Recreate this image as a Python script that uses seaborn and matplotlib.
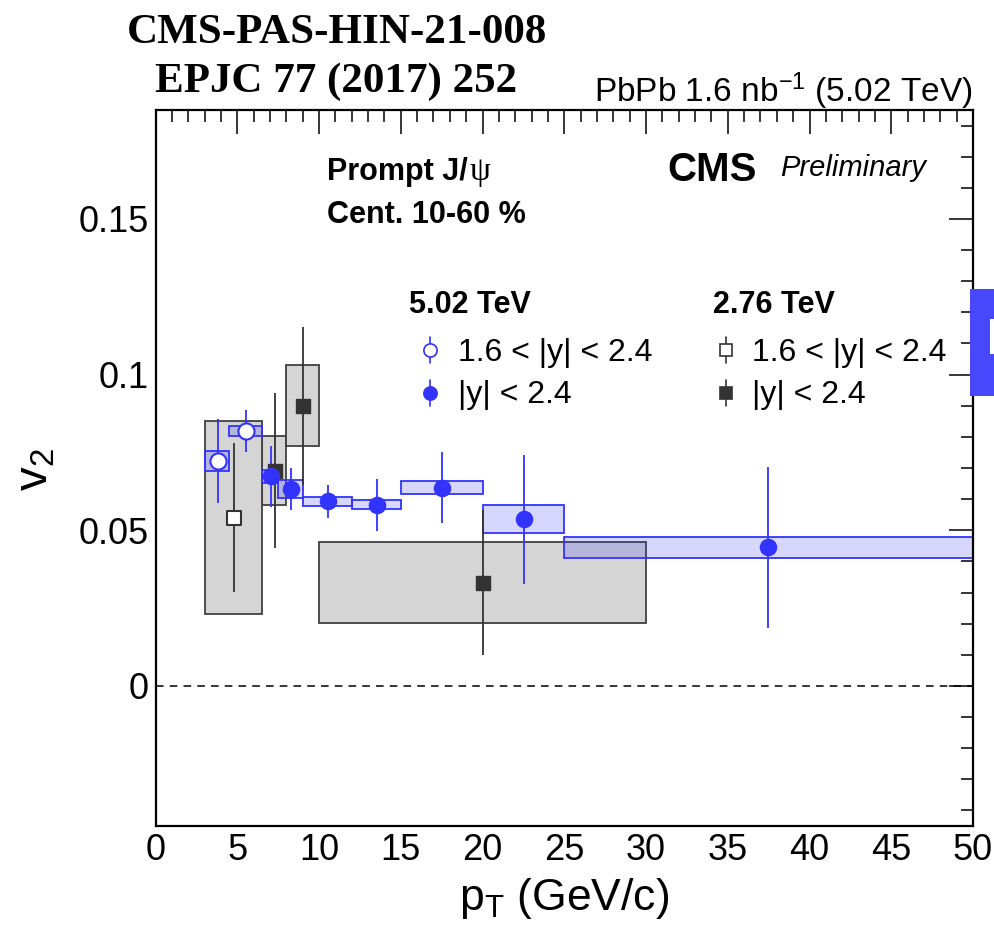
import numpy as np
import pandas as pd
import matplotlib
matplotlib.use("Agg")
import matplotlib.pyplot as plt
from matplotlib.patches import Rectangle
from matplotlib.ticker import MultipleLocator, FixedLocator
import seaborn as sns

# ---- prompt J/psi v2 vs pT, centrality 10-60 % ----
# 5.02 TeV, |y| < 2.4
pt_mid_502 = [7.04, 8.28, 10.52, 13.52, 17.53, 22.52, 37.48]
pt_lo_502 = [6.5, 7.5, 9.0, 12.0, 15.0, 20.0, 25.0]
pt_hi_502 = [7.5, 9.0, 12.0, 15.0, 20.0, 25.0, 50.0]
v2_502 = [0.0673, 0.0633, 0.0593, 0.0582, 0.0637, 0.0536, 0.0445]
stat_502 = [0.0097, 0.0067, 0.0053, 0.0083, 0.0113, 0.0207, 0.0258]
syst_502 = [0.0020, 0.0030, 0.0014, 0.0014, 0.0021, 0.0044, 0.0033]

# 5.02 TeV, 1.6 < |y| < 2.4
pt_mid_502f = [3.80, 5.53]
pt_lo_502f = [3.0, 4.5]
pt_hi_502f = [4.5, 6.5]
v2_502f = [0.0724, 0.0818]
stat_502f = [0.0135, 0.0067]
syst_502f = [0.0032, 0.0016]

# 2.76 TeV, |y| < 2.4
pt_mid_276 = [7.28, 9.02, 20.0]
pt_lo_276 = [6.5, 8.0, 10.0]
pt_hi_276 = [8.0, 10.0, 30.0]
v2_276 = [0.0692, 0.0900, 0.0332]
stat_276 = [0.0250, 0.0254, 0.0232]
syst_276 = [0.0110, 0.0130, 0.0130]

# 2.76 TeV, 1.6 < |y| < 2.4
pt_mid_276f = [4.78]
pt_lo_276f = [3.0]
pt_hi_276f = [6.5]
v2_276f = [0.0541]
stat_276f = [0.0240]
syst_276f = [0.0310]

x_ticks = [0, 5, 10, 15, 20, 25, 30, 35, 40, 45, 50]
y_ticks = [0.0, 0.05, 0.10, 0.15]
y_tick_labels = ["0", "0.05", "0.1", "0.15"]

BLUE = "#3333ff"
DARK = "#333333"
SANS = ["Liberation Sans", "DejaVu Sans"]
SERIF = ["Liberation Serif", "DejaVu Serif"]

sns.set_theme(style="white")
plt.rcParams["font.family"] = SANS
plt.rcParams["text.color"] = "black"
plt.rcParams["axes.labelcolor"] = "black"
plt.rcParams["xtick.color"] = "black"
plt.rcParams["ytick.color"] = "black"
plt.rcParams["mathtext.fontset"] = "custom"
plt.rcParams["mathtext.rm"] = "Liberation Sans"
plt.rcParams["mathtext.it"] = "Liberation Sans"


def frame(mid, lo, hi, v, st, sy):
    return pd.DataFrame({"pt": mid, "lo": lo, "hi": hi, "v2": v,
                         "stat": st, "syst": sy})


d502 = frame(pt_mid_502, pt_lo_502, pt_hi_502, v2_502, stat_502, syst_502)
d502f = frame(pt_mid_502f, pt_lo_502f, pt_hi_502f, v2_502f, stat_502f, syst_502f)
d276 = frame(pt_mid_276, pt_lo_276, pt_hi_276, v2_276, stat_276, syst_276)
d276f = frame(pt_mid_276f, pt_lo_276f, pt_hi_276f, v2_276f, stat_276f, syst_276f)

fig = plt.figure(figsize=(9.95, 9.30), dpi=100)
ax = fig.add_axes([0.1563, 0.1118, 0.9779 - 0.1563, 0.8817 - 0.1118])
ax.set_xlim(0, 50)
ax.set_ylim(-0.045, 0.185)


# systematic boxes
def syst_boxes(df, face, edge, z):
    ax.bar(df["lo"], 2 * df["syst"], width=df["hi"] - df["lo"],
           bottom=df["v2"] - df["syst"], align="edge",
           color=face, edgecolor=edge, linewidth=1.3, zorder=z)


syst_boxes(d276, "#d5d5d5", "#404040", 1)
syst_boxes(d276f, "#d5d5d5", "#404040", 1)
syst_boxes(d502, (0.2, 0.2, 1.0, 0.2), BLUE, 2)
syst_boxes(d502f, (0.2, 0.2, 1.0, 0.2), BLUE, 2)

ax.axhline(0, color="black", lw=1.1, ls=(0, (5, 4)), zorder=1.5)

# statistical error bars
for df, col, z in [(d276, DARK, 3), (d276f, DARK, 3), (d502, BLUE, 4), (d502f, BLUE, 4)]:
    ax.errorbar(df["pt"], df["v2"], yerr=df["stat"], fmt="none",
                ecolor=col, elinewidth=1.3, capsize=0, zorder=z)

# markers
sns.scatterplot(data=d276, x="pt", y="v2", marker="s", s=95, color=DARK,
                edgecolor=DARK, linewidth=1, ax=ax, zorder=5)
sns.scatterplot(data=d276f, x="pt", y="v2", marker="s", s=95, color="white",
                edgecolor=DARK, linewidth=1.5, ax=ax, zorder=5)
sns.scatterplot(data=d502, x="pt", y="v2", marker="o", s=135, color=BLUE,
                edgecolor=BLUE, linewidth=1, ax=ax, zorder=6)
sns.scatterplot(data=d502f, x="pt", y="v2", marker="o", s=135, color="white",
                edgecolor=BLUE, linewidth=1.5, ax=ax, zorder=6)

# axes styling
ax.set_xlabel("")
ax.set_ylabel("")
ax.xaxis.set_major_locator(FixedLocator(x_ticks))
ax.xaxis.set_minor_locator(MultipleLocator(1))
ax.yaxis.set_major_locator(FixedLocator(y_ticks))
ax.yaxis.set_minor_locator(MultipleLocator(0.01))
ax.set_xticklabels([str(t) for t in x_ticks])
ax.set_yticklabels(y_tick_labels)
ax.tick_params(which="both", direction="in", top=True, right=True,
               color="black", width=1.1, labelsize=26, labelcolor="black")
ax.tick_params(which="major", length=17)
ax.tick_params(which="minor", length=8.5)
ax.tick_params(axis="x", pad=5)
ax.tick_params(axis="y", pad=5)
for sp in ax.spines.values():
    sp.set_visible(True)
    sp.set_color("black")
    sp.set_linewidth(1.6)
ax.grid(False)
ax.set_facecolor("white")

fig.text(0.567, 1 - 910 / 930, r"p$_{\mathrm{T}}$ (GeV/c)", ha="center",
         va="baseline", fontsize=32)
fig.text(0.036, 0.495, r"v$_{2}$", ha="center", va="center", rotation=90,
         fontsize=34)

# header texts
fig.text(127 / 995, 1 - 43 / 930, "CMS-PAS-HIN-21-008", family=SERIF,
         fontweight="bold", fontsize=31, ha="left", va="baseline")
fig.text(155 / 995, 1 - 92 / 930, "EPJC 77 (2017) 252", family=SERIF,
         fontweight="bold", fontsize=31, ha="left", va="baseline")
fig.text(973 / 995, 1 - 102 / 930, r"PbPb 1.6 nb$^{\mathregular{-1}}$ (5.02 TeV)",
         ha="right", va="baseline", fontsize=24)


# labels inside the frame (pixel positions converted to figure fractions)
def ftxt(px, py, s, **kw):
    fig.text(px / 995, 1 - py / 930, s, va="baseline", ha="left", **kw)


ftxt(327, 180, "Prompt J/", fontsize=22, fontweight="bold")
ftxt(470, 180, "\u03c8", fontsize=24, family=SERIF)
ftxt(327, 223, "Cent. 10-60 %", fontsize=22, fontweight="bold")
ftxt(667, 181, "CMS", fontsize=29, fontweight="bold")
ftxt(780, 176, "Preliminary", fontsize=21, style="italic")
ftxt(409, 313, "5.02 TeV", fontsize=22, fontweight="bold")
ftxt(713, 313, "2.76 TeV", fontsize=22, fontweight="bold")
ftxt(458, 361, "1.6 < |y| < 2.4", fontsize=23)
ftxt(458, 403, "|y| < 2.4", fontsize=23)
ftxt(752, 361, "1.6 < |y| < 2.4", fontsize=23)
ftxt(752, 403, "|y| < 2.4", fontsize=23)


# legend glyphs: short vertical bar with a marker
def glyph(px, py, marker, face, edge, size):
    fx, fy = px / 995, 1 - py / 930
    fig.add_artist(plt.Line2D([fx, fx], [fy - 13 / 930, fy + 13 / 930],
                              color=edge, lw=1.2, transform=fig.transFigure))
    fig.add_artist(plt.Line2D([fx], [fy], marker=marker, markersize=size,
                              markerfacecolor=face, markeredgecolor=edge,
                              markeredgewidth=1.2, transform=fig.transFigure))


glyph(430, 350, "o", "white", BLUE, 9.5)
glyph(430, 393, "o", BLUE, BLUE, 9.5)
glyph(726, 350, "s", "white", DARK, 8)
glyph(726, 393, "s", DARK, DARK, 8)

# blue tab at the right border
fig.add_artist(Rectangle((970 / 995, 1 - 396 / 930), 25 / 995, 107 / 930,
                         facecolor="#4848ff", edgecolor="none",
                         transform=fig.transFigure, zorder=10))
fig.add_artist(Rectangle((990 / 995, 1 - 354 / 930), 5 / 995, 35 / 930,
                         facecolor="white", edgecolor="none",
                         transform=fig.transFigure, zorder=11))

fig.savefig("out.png", dpi=100, facecolor="white")
